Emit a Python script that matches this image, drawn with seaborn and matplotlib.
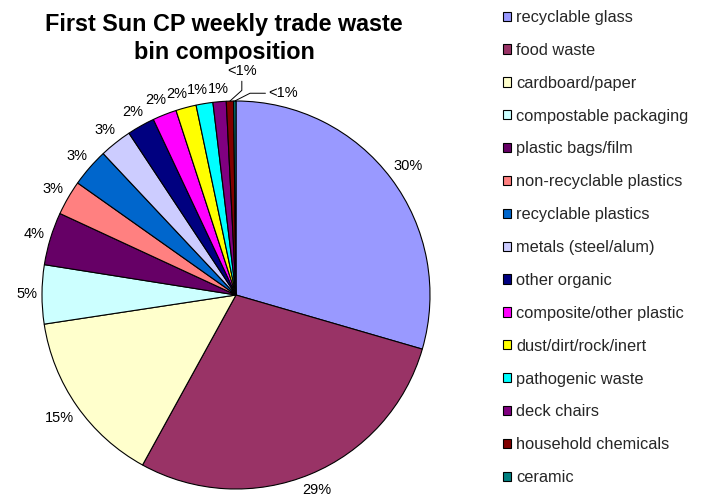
import matplotlib
matplotlib.use("Agg")
import matplotlib.pyplot as plt
import seaborn as sns
import numpy as np

# waste categories, in the order they go round the pie (clockwise from 12 o'clock)
categories = ["recyclable glass", "food waste", "cardboard/paper", "compostable packaging",
              "plastic bags/film", "non-recyclable plastics", "recyclable plastics",
              "metals (steel/alum)", "other organic", "composite/other plastic",
              "dust/dirt/rock/inert", "pathogenic waste", "deck chairs",
              "household chemicals", "ceramic"]
# share of the bin (%)
shares = [29.5, 28.5, 14.6, 4.9, 4.4, 2.9, 3.2, 2.7, 2.3, 2.0, 1.7, 1.4, 1.1, 0.6, 0.2]
colors = ["#9999FF", "#993366", "#FFFFCC", "#CCFFFF", "#660066", "#FF8080", "#0066CC",
          "#CCCCFF", "#000080", "#FF00FF", "#FFFF00", "#00FFFF", "#800080", "#800000",
          "#008080"]

sns.set_theme(style="white")
plt.rcParams["font.family"] = ["Liberation Sans", "DejaVu Sans"]


def pct_label(v):
    p = 100 * v / sum(shares)
    # spreadsheet style rounding (half up)
    return "<1%" if p < 1 else f"{int(p + 0.5 + 1e-9)}%"


fig = plt.figure(figsize=(7.04, 4.94), dpi=100)
ax = fig.add_axes([42 / 704, 1 - 489 / 494, 388 / 704, 388 / 494])

wedges, _ = ax.pie(shares, colors=colors, startangle=90, counterclock=False,
                   wedgeprops=dict(edgecolor="black", linewidth=0.8))
ax.set_xlim(-1, 1)
ax.set_ylim(-1, 1)
ax.set_aspect("equal")
ax.axis("off")

# percentage labels just outside each slice
rend = fig.canvas.get_renderer()
unit = ax.transData.transform((1, 0))[0] - ax.transData.transform((0, 0))[0]
gap = 0.025
# the two tiny slices get callouts with leader lines (label spot, elbow angles)
callouts = {"household chemicals": ((0.03, 1.155), 90, 42),
            "ceramic": ((0.245, 1.04), 0, 27)}
upper_left = []
for w, cat, v in zip(wedges, categories, shares):
    mid = np.deg2rad((w.theta1 + w.theta2) / 2)
    ux, uy = np.cos(mid), np.sin(mid)
    lab = pct_label(v)
    if cat in callouts:
        pos, a_ang, b_ang = callouts[cat]
        ax.annotate(lab, xy=(ux, uy), xytext=pos, ha="center", va="center",
                    fontsize=10.5, color="black",
                    arrowprops=dict(arrowstyle="-", lw=0.7, color="black", shrinkA=0,
                                    shrinkB=0,
                                    connectionstyle=f"angle,angleA={a_ang},angleB={b_ang},rad=0"))
        continue
    t = ax.text(0, 0, lab, ha="center", va="center", fontsize=10.5, color="black")
    bb = t.get_window_extent(rend)
    hw = bb.width / 2 / unit
    hh = bb.height / 2 / unit
    d = 1 + gap + abs(ux) * hw + abs(uy) * hh
    t.set_position((d * ux, d * uy))
    if ux < 0 and uy > 0:
        upper_left.append(t)

# crowded labels near the top: push each one left until it clears its neighbour
for right, left in zip(upper_left[::-1], upper_left[::-1][1:]):
    rb = right.get_window_extent(rend)
    lb = left.get_window_extent(rend)
    if lb.x1 > rb.x0 and lb.y0 < rb.y1 - 3 and lb.y1 > rb.y0 + 3:
        x, y = left.get_position()
        left.set_position((x - (lb.x1 - rb.x0) / unit, y))

fig.legend(wedges, categories, loc="upper left", bbox_to_anchor=(503 / 704, 1 - 10 / 494),
           frameon=False, fontsize=11.8, handlelength=0.5, handleheight=0.5,
           handletextpad=0.3, labelspacing=1.09, borderpad=0, borderaxespad=0)

fig.text(224 / 704, 0.974, "First Sun CP weekly trade waste\nbin composition",
         ha="center", va="top", fontsize=16.8, fontweight="bold", color="black",
         linespacing=1.3)

fig.savefig("out.png", dpi=100)
